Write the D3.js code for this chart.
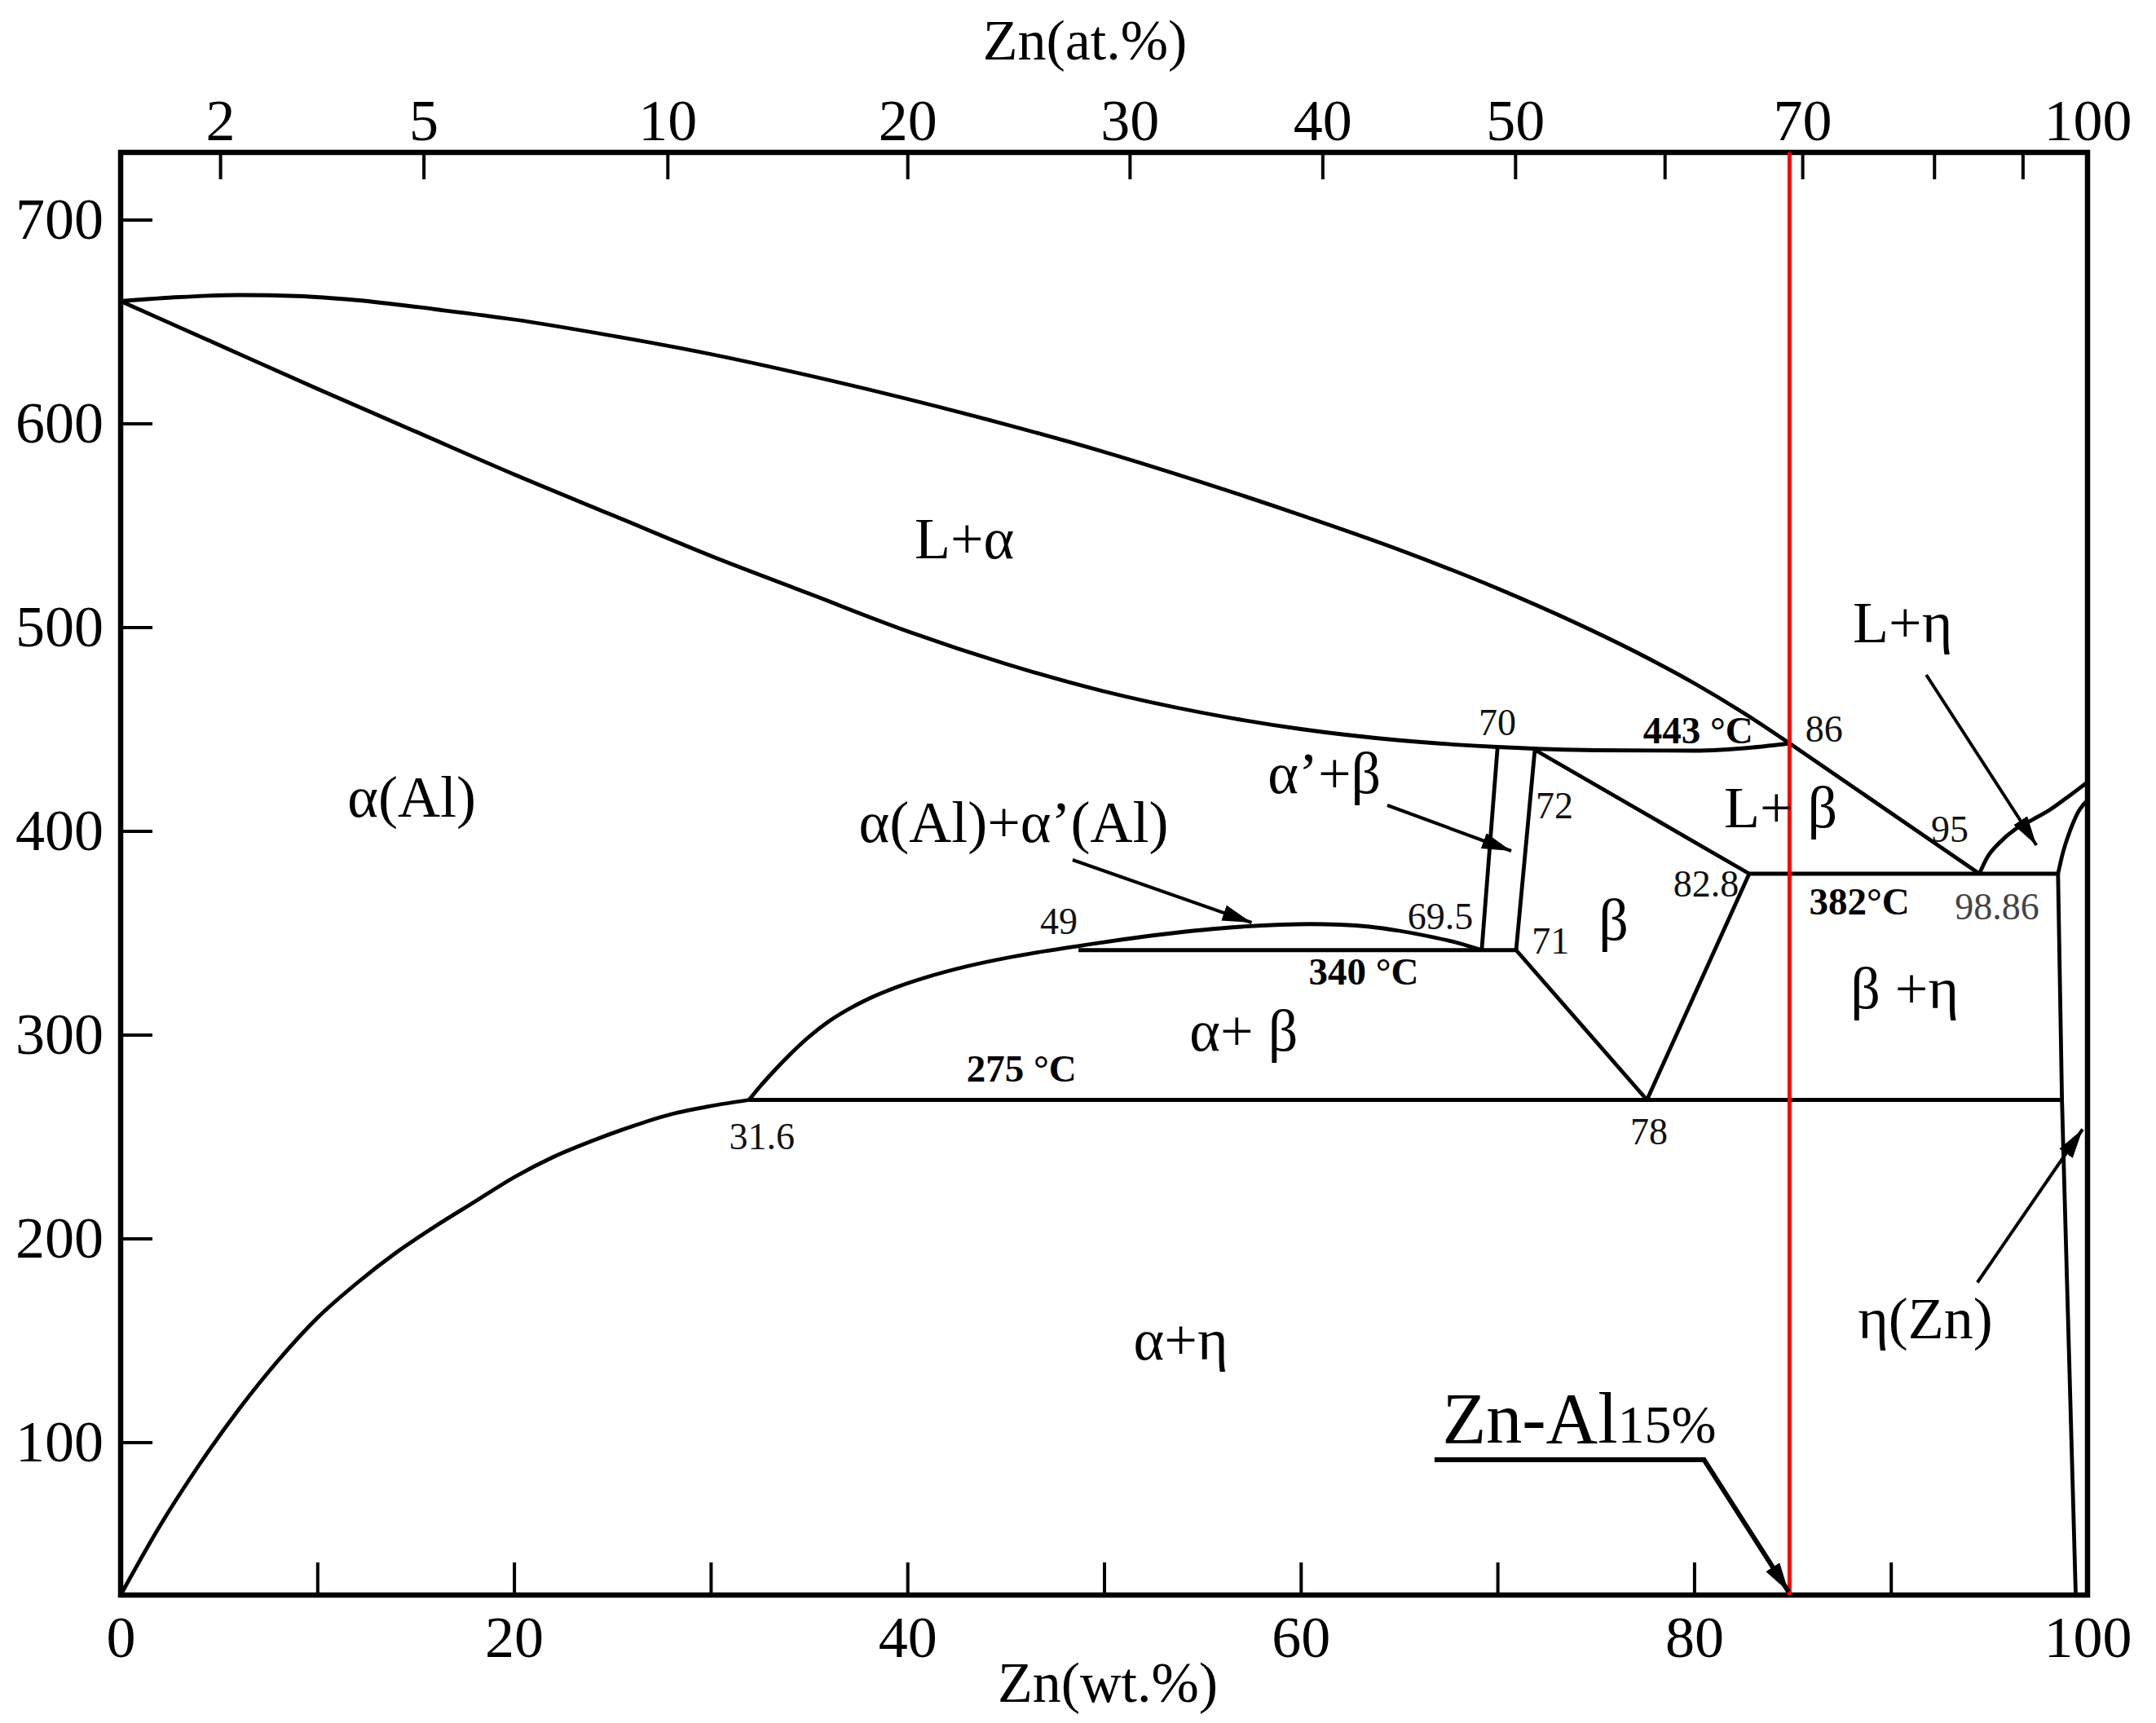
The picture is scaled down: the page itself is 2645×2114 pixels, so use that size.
<!DOCTYPE html>
<html>
<head>
<meta charset="utf-8">
<script src="https://cdn.jsdelivr.net/npm/d3@7"></script>
<style>
  html, body { margin: 0; padding: 0; background: #fff; }
  svg text { font-family: "Liberation Serif", "Times New Roman", serif; }
</style>
</head>
<body>
<svg id="chart" width="2645" height="2114"></svg>
<script>
// ---------------- data (wt.% Zn, temperature °C) ----------------
const wtTicks = [0, 10, 20, 30, 40, 50, 60, 70, 80, 90, 100];
const wtTickLabels = ["0", "", "20", "", "40", "", "60", "", "80", "", "100"];
const tempTicks = [100, 200, 300, 400, 500, 600, 700];
// top axis: at.% labels and the wt.% position at which each tick is drawn
const atTickLabels = ["2", "5", "10", "20", "30", "40", "50", "", "70", "", "", "100"];
const atTickWt     = [5.06, 15.4, 27.8, 40.0, 51.3, 61.1, 70.9, 78.5, 85.5, 92.2, 96.7, 100];

const liquidusAl = [[0,660],[3,662],[6,663],[9,662.5],[12,660.5],[16,656],[20,651],[25,643],
  [30,634],[35,623.5],[40,612],[45,599.5],[50,586],[55,571],[60,555],[65,538],[70,519],
  [74,502],[77,488],[80,472.5],[82.5,458],[84.85,443]];
const solidusAl = [[0,660],[5,638.5],[10,617],[15,596],[20,575],[25,555],[30,535],[35,516.5],
  [40,498],[45,482],[50,468.5],[55,458],[60,450],[65,444.5],[70,441.2],[75,439.6],[80,439.4],
  [83,441],[84.85,443]];
const solvusAl = [[0,25],[2,59],[4,89],[6,116],[8,140],[10,161],[12,178],[14,193],[16,206],
  [18,218],[20,230],[22,240],[24,248],[26,255],[28,261],[30,265],[31.95,268]];
const miscibilityDome = [[31.95,268],[32.5,274.5],[33.2,282],[34,290],[35,299],[36,306.5],
  [37,312.5],[38,317.5],[39.5,323.5],[41,328.3],[43,333.5],[45,337.6],[47,341],[49,344],
  [51,346.8],[53,349.3],[55,351.4],[57,353],[59,354],[60.5,354.3],[62,354],[63.5,353],
  [65,351],[66.5,348.3],[68,345],[69.2,341.5]];
const alphaPrimeBoundary = [[70.0,440.5],[69.2,341.5]];
const betaLeftUpper = [[71.9,439.8],[70.95,341.5]];
const betaRightUpper = [[71.9,439.8],[82.8,379]];
const betaRightLower = [[82.8,379],[77.6,268]];
const betaLeftLower = [[70.95,341.5],[77.6,268]];
const iso340 = [[48.7,341.5],[70.95,341.5]];
const iso382 = [[82.8,379],[98.5,379]];
const iso275 = [[31.95,268],[98.7,268]];
const liquidusBeta = [[84.85,443],[94.5,379]];
const liquidusZn = [[94.5,379],[94.9,387],[95.5,394],[96.35,401],[97.2,405.5],[98.1,410.5],
  [98.9,416],[100,424]];
const solidusZn = [[98.5,379],[98.74,389],[99.1,399.8],[99.6,410.5],[100,415]];
const solvusZn = [[98.5,379],[98.7,268],[99.4,25]];
const alloyWt = 84.85;   // Zn-Al15% composition line

// labels: [text, wt.%, °C]
const regionLabels = [
  ["L+α", 42.9, 534], ["α(Al)", 14.8, 407], ["α(Al)+α’(Al)", 45.4, 394.6], ["α’+β", 61.2, 418.6],
  ["L+ β", 84.4, 401.8], ["L+η", 90.6, 492.6], ["β", 75.9, 346.6], ["α+ β", 57.1, 292.2],
  ["β +η", 90.7, 313], ["α+η", 53.9, 140.6], ["η(Zn)", 91.75, 151]
];
const pointLabels = [
  ["70", 70.0, 447], ["86", 86.6, 443.8], ["72", 72.9, 406.2], ["95", 93.0, 394.6],
  ["82.8", 80.6, 367.8], ["98.86", 95.4, 356.6], ["69.5", 67.1, 351.8], ["71", 72.7, 339.8],
  ["49", 47.7, 349.4], ["31.6", 32.6, 244], ["78", 77.7, 246.2]
];
const tempLabels = [
  ["443 °C", 80.2, 443], ["382°C", 88.4, 359], ["340 °C", 63.2, 324.6], ["275 °C", 45.8, 277]
];
// arrows: start -> end (wt.%, °C)
const arrows = [
  [[48.4,385.8],[57.5,355]],
  [[64.4,412.6],[70.7,390.2]],
  [[91.8,476.6],[97.4,393]],
  [[94.4,178.4],[99.75,253.6]]
];
const alloyLeader = [[66.8,91.4],[80.5,91.4],[84.8,26.6]];
const alloyLabel = {main: "Zn-Al", sub: "15%", wt: 67.2, T: 99.8};

// ---------------- drawing ----------------
const svg = d3.select("#chart");
const x = d3.scaleLinear().domain([0, 100]).range([148, 2561]);
const y = d3.scaleLinear().domain([25, 733]).range([1957, 187]);

const defs = svg.append("defs");
defs.append("marker").attr("id", "ah")
  .attr("viewBox", "0 0 10 10").attr("refX", 10).attr("refY", 5)
  .attr("markerWidth", 36).attr("markerHeight", 20)
  .attr("markerUnits", "userSpaceOnUse").attr("orient", "auto")
  .attr("preserveAspectRatio", "none")
  .append("path").attr("d", "M0,0 L10,5 L0,10 z").attr("fill", "#000");

const curve = d3.line().x(d => x(d[0])).y(d => y(d[1])).curve(d3.curveMonotoneX);
const straight = d3.line().x(d => x(d[0])).y(d => y(d[1]));

const g = svg.append("g");
[liquidusAl, solidusAl, solvusAl, miscibilityDome, liquidusZn, solidusZn].forEach(p => {
  g.append("path").attr("d", curve(p)).attr("fill", "none")
    .attr("stroke", "#000").attr("stroke-width", 4.8).attr("stroke-linejoin", "round");
});
[alphaPrimeBoundary, betaLeftUpper, betaRightUpper, betaRightLower, betaLeftLower,
 iso340, iso382, iso275, liquidusBeta, solvusZn].forEach(p => {
  g.append("path").attr("d", straight(p)).attr("fill", "none")
    .attr("stroke", "#000").attr("stroke-width", 4.8).attr("stroke-linejoin", "round");
});

// axes
const bottomAxis = d3.axisBottom(x).tickValues(wtTicks)
  .tickFormat((d, i) => wtTickLabels[i]).tickSizeInner(-40).tickSizeOuter(0).tickPadding(25);
const topAxis = d3.axisTop(x).tickValues(atTickWt)
  .tickFormat((d, i) => atTickLabels[i]).tickSizeInner(-33).tickSizeOuter(0).tickPadding(15);
const leftAxis = d3.axisLeft(y).tickValues(tempTicks)
  .tickFormat(d3.format("d")).tickSizeInner(-39).tickSizeOuter(0).tickPadding(21);

function styleAxis(sel) {
  sel.select(".domain").remove();
  sel.selectAll(".tick line").attr("stroke", "#000").attr("stroke-width", 4);
  sel.selectAll(".tick text").attr("fill", "#000").attr("font-size", 72)
    .style("font-family", "'Liberation Serif', 'Times New Roman', serif");
}
svg.append("g").attr("transform", "translate(0,1957)").call(bottomAxis).call(styleAxis);
svg.append("g").attr("transform", "translate(0,187)").call(topAxis).call(styleAxis);
svg.append("g").attr("transform", "translate(148,0)").call(leftAxis).call(styleAxis);

// frame
svg.append("rect").attr("x", x(0)).attr("y", y(733))
  .attr("width", x(100) - x(0)).attr("height", y(25) - y(733))
  .attr("fill", "none").attr("stroke", "#000").attr("stroke-width", 6.5);

// red composition line
svg.append("line").attr("x1", x(alloyWt)).attr("x2", x(alloyWt))
  .attr("y1", y(733)).attr("y2", y(25)).attr("stroke", "#ff0000").attr("stroke-width", 5);

// axis titles
svg.append("text").attr("x", 1331).attr("y", 73).attr("text-anchor", "middle")
  .attr("font-size", 70).text("Zn(at.%)");
svg.append("text").attr("x", 1359).attr("y", 2088).attr("text-anchor", "middle")
  .attr("font-size", 70).text("Zn(wt.%)");

// labels
const lg = svg.append("g");
regionLabels.forEach(([t, wx, ty]) => {
  lg.append("text").attr("x", x(wx)).attr("y", y(ty)).attr("text-anchor", "middle")
    .attr("font-size", 72).attr("fill", "#000").text(t);
});
pointLabels.forEach(([t, wx, ty]) => {
  lg.append("text").attr("x", x(wx)).attr("y", y(ty)).attr("text-anchor", "middle")
    .attr("font-size", 46).attr("fill", t === "98.86" ? "#444" : "#111").text(t);
});
tempLabels.forEach(([t, wx, ty]) => {
  lg.append("text").attr("x", x(wx)).attr("y", y(ty)).attr("text-anchor", "middle")
    .attr("font-size", 47).attr("font-weight", "bold").attr("fill", "#000").text(t);
});

// arrows
arrows.forEach(a => {
  lg.append("path").attr("d", straight(a)).attr("fill", "none")
    .attr("stroke", "#000").attr("stroke-width", 4).attr("marker-end", "url(#ah)");
});
lg.append("path").attr("d", straight(alloyLeader)).attr("fill", "none")
  .attr("stroke", "#000").attr("stroke-width", 6).attr("stroke-linejoin", "miter")
  .attr("marker-end", "url(#ah)");

const al = lg.append("text").attr("x", x(alloyLabel.wt)).attr("y", y(alloyLabel.T))
  .attr("font-size", 88).attr("fill", "#000");
al.append("tspan").text(alloyLabel.main);
al.append("tspan").attr("font-size", 66).text(alloyLabel.sub);
</script>
</body>
</html>
